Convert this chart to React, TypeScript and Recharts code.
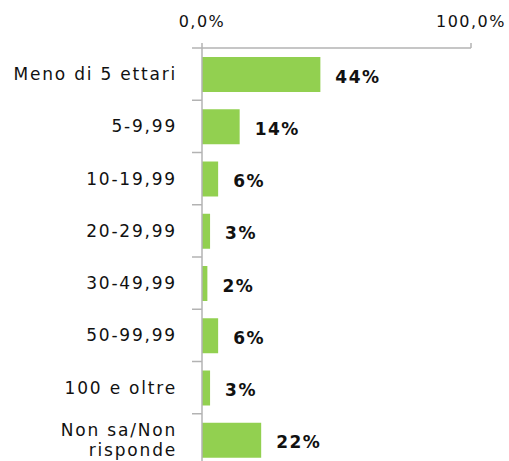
import React from 'react';
import { BarChart, Bar, XAxis, YAxis, LabelList } from 'recharts';

const categories = [
  'Meno di 5 ettari',
  '5-9,99',
  '10-19,99',
  '20-29,99',
  '30-49,99',
  '50-99,99',
  '100 e oltre',
  'Non sa/Non\nrisponde',
];
const values = [44, 14, 6, 3, 2, 6, 3, 22];
const axisTicks = [0, 100];

const data = categories.map((c, i) => ({ name: c, value: values[i] }));

const FONT = '"DejaVu Sans", sans-serif';
const TEXT = '#111111';
const AXIS = '#b3b3b3';
const GREEN = '#92d050';

const W = 509;
const H = 480;
const MARGIN = { top: 0, right: 38, bottom: 14, left: 0 };
const PLOT_H = H - 48 - MARGIN.bottom;

const YTick = (props: any) => {
  const { x, y, payload } = props;
  const half = payload && payload.offset ? payload.offset : PLOT_H / categories.length / 2;
  const lines = String(payload.value).split('\n');
  const lh = 20;
  const startY = y - ((lines.length - 1) * lh) / 2;
  return (
    <g>
      <line x1={x - 10} x2={x} y1={y - half} y2={y - half} stroke={AXIS} strokeWidth={1.5} />
      <text
        x={x - 25}
        y={startY}
        textAnchor="end"
        dominantBaseline="central"
        fill={TEXT}
        fontFamily={FONT}
        fontSize={17}
        letterSpacing={1.8}
      >
        {lines.map((l, i) => (
          <tspan key={i} x={x - 25} y={startY + i * lh}>
            {l}
          </tspan>
        ))}
      </text>
    </g>
  );
};

const XTick = (props: any) => {
  const { x, y, payload } = props;
  const label = Number(payload.value).toFixed(1).replace('.', ',') + '%';
  return (
    <text
      x={x}
      y={y}
      textAnchor="middle"
      fill={TEXT}
      fontFamily={FONT}
      fontSize={16}
      letterSpacing={1.5}
    >
      {label}
    </text>
  );
};

const ValueLabel = (props: any) => {
  const { x, y, width, height, value } = props;
  return (
    <text
      x={x + width + 15}
      y={y + height / 2 + 2}
      dominantBaseline="central"
      fill={TEXT}
      fontFamily={FONT}
      fontSize={17}
      fontWeight="bold"
      letterSpacing={1.5}
    >
      {Math.round(value) + '%'}
    </text>
  );
};

export default function App() {
  return (
    <div style={{ position: 'absolute', left: 0, top: 0, width: W, height: 461, overflow: 'hidden', background: '#fff' }}>
      <BarChart width={W} height={H} data={data} layout="vertical" margin={MARGIN}>
        <XAxis
          type="number"
          orientation="top"
          domain={[0, 100]}
          ticks={axisTicks}
          tick={<XTick />}
          tickSize={5}
          tickMargin={16}
          height={48}
          axisLine={{ stroke: AXIS, strokeWidth: 1.5 }}
          tickLine={{ stroke: AXIS, strokeWidth: 1.5 }}
        />
        <YAxis
          type="category"
          dataKey="name"
          width={202}
          tick={<YTick />}
          tickLine={false}
          tickSize={0}
          tickMargin={0}
          interval={0}
          axisLine={{ stroke: AXIS, strokeWidth: 1.5 }}
        />
        <Bar dataKey="value" fill={GREEN} barSize={35} isAnimationActive={false}>
          <LabelList dataKey="value" content={<ValueLabel />} />
        </Bar>
      </BarChart>
    </div>
  );
}
